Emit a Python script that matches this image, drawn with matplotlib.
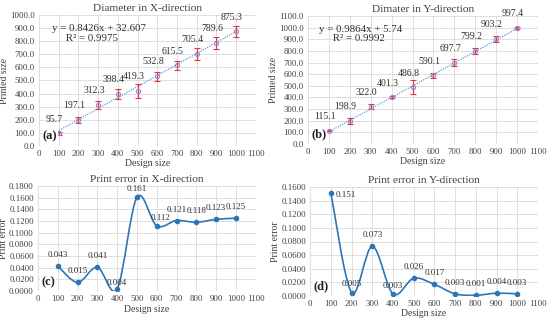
import matplotlib

matplotlib.use("Agg")

import matplotlib.pyplot as plt
import numpy as np
from matplotlib.path import Path
from matplotlib.patches import PathPatch

plt.rcParams["font.family"] = ["Liberation Serif", "DejaVu Serif"]

# data
design = [100, 200, 300, 400, 500, 600, 700, 800, 900, 1000]

x_printed = [95.7, 197.1, 312.3, 398.4, 419.3, 532.8, 615.5, 705.4, 789.6, 875.3]
x_spread = [10, 25, 30, 40, 55, 35, 35, 45, 45, 45]
x_slope, x_intercept, x_r2 = 0.8426, 32.607, 0.9975

y_printed = [115.1, 198.9, 322.0, 401.3, 486.8, 590.1, 697.7, 799.2, 903.2, 997.4]
y_spread = [6, 25, 25, 8, 60, 20, 30, 25, 25, 6]
y_slope, y_intercept, y_r2 = 0.9864, 5.74, 0.9992

x_error = [0.043, 0.015, 0.041, 0.004, 0.161, 0.112, 0.121, 0.118, 0.123, 0.125]
y_error = [0.151, 0.005, 0.073, 0.003, 0.026, 0.017, 0.003, 0.001, 0.004, 0.003]

GRID = "#d9d9d9"
LINE = "#2e75b6"
TREND = "#5b9bd5"
MARK = "#8e8ecf"
ERR = "#e8313c"


def _style(ax, ymax, ystep, fmt, title):
    ax.set_xlim(0, 1100)
    ax.set_ylim(0, ymax)
    ax.set_xticks(np.arange(0, 1101, 100))
    ax.set_yticks(np.arange(0, ymax + ystep / 2, ystep))
    ax.yaxis.set_major_formatter(matplotlib.ticker.FormatStrFormatter(fmt))
    ax.grid(True, color=GRID, linewidth=0.6)
    ax.set_axisbelow(True)
    for s in ax.spines.values():
        s.set_visible(False)
    ax.tick_params(length=0, labelsize=6.3, colors="#404040", pad=3)
    ax.set_title(title, fontsize=8.2, color="#404040", pad=3)
    ax.set_xlabel("Design size", fontsize=7, color="#404040", labelpad=1)


def _panel_tag(ax, tag):
    ax.text(0.015, 0.03, tag, transform=ax.transAxes, fontsize=9, fontweight="bold",
            ha="left", va="bottom", color="#202020",
            bbox=dict(facecolor="white", edgecolor="none", pad=0.5))


def plot_size(ax, printed, spread, slope, intercept, r2, ymax, title, tag, eq_pos):
    _style(ax, ymax, 100, "%.1f", title)
    xs = np.array([design[0], design[-1]], dtype=float)
    ax.plot(xs, slope * xs + intercept, color=TREND, linestyle=(0, (1, 1)), linewidth=0.9)
    ax.errorbar(design, printed, yerr=spread, fmt="o", color=MARK, markersize=3,
                markerfacecolor="none", markeredgewidth=0.8,
                ecolor=ERR, elinewidth=0.9, capsize=2.5, capthick=0.9)
    for x, y in zip(design, printed):
        ax.annotate(f"{y:.1f}", xy=(x, y), xytext=(-3, 7), textcoords="offset points",
                    ha="center", va="bottom", fontsize=7, color="#303030")
    sign = "+" if intercept >= 0 else "-"
    ax.text(eq_pos[0], eq_pos[1], f"y = {slope:.4f}x {sign} {abs(intercept):g}\n     R² = {r2:.4f}",
            transform=ax.transAxes, fontsize=7.8, color="#303030", va="top", ha="left",
            linespacing=1.05)
    ax.set_ylabel("Printed size", fontsize=7, color="#404040", labelpad=1)
    _panel_tag(ax, tag)


def _smooth_path(xs, ys):
    # Excel-style smoothed line: cubic Bezier through each point
    p = np.column_stack([xs, ys]).astype(float)
    n = len(p)
    verts = [p[0]]
    codes = [Path.MOVETO]
    for i in range(n - 1):
        p0 = p[i - 1] if i > 0 else p[i]
        p3 = p[i + 2] if i + 2 < n else p[i + 1]
        c1 = p[i] + (p[i + 1] - p0) / 6
        c2 = p[i + 1] - (p3 - p[i]) / 6
        verts += [c1, c2, p[i + 1]]
        codes += [Path.CURVE4] * 3
    return Path(verts, codes)


def plot_error(ax, err, ymax, title, tag, offsets):
    _style(ax, ymax, 0.02, "%.4f", title)
    ax.add_patch(PathPatch(_smooth_path(design, err), facecolor="none",
                           edgecolor=LINE, linewidth=1.2))
    ax.plot(design, err, "o", color=LINE, markersize=3)
    for (x, y), off in zip(zip(design, err), offsets):
        ax.annotate(f"{y:.3f}", xy=(x, y), xytext=off, textcoords="offset points",
                    ha="center", va="bottom", fontsize=6.5, color="#303030")
    ax.set_ylabel("Print error", fontsize=7, color="#404040", labelpad=1)
    _panel_tag(ax, tag)


fig = plt.figure(figsize=(5.5, 3.22), dpi=100)

ax_a = fig.add_axes([0.071, 0.547, 0.394, 0.406])
ax_b = fig.add_axes([0.560, 0.553, 0.418, 0.397])
ax_c = fig.add_axes([0.069, 0.096, 0.396, 0.326])
ax_d = fig.add_axes([0.564, 0.081, 0.414, 0.338])

plot_size(ax_a, x_printed, x_spread, x_slope, x_intercept, x_r2, 1000,
          "Diameter in X-direction", "(a)", (0.06, 0.93))
plot_size(ax_b, y_printed, y_spread, y_slope, y_intercept, y_r2, 1100,
          "Dimater in Y-direction", "(b)", (0.05, 0.93))

off_c = [(0, 5), (0, 5), (0, 5), (0, 1), (0, 3), (3, 3), (0, 5), (0, 5), (0, 5), (0, 5)]
off_d = [(11, -4), (0, 3), (0, 5), (0, 3), (0, 5), (0, 5), (0, 5), (0, 5), (0, 5), (0, 5)]
plot_error(ax_c, x_error, 0.18, "Print error in X-direction", "(c)", off_c)
plot_error(ax_d, y_error, 0.16, "Print error in Y-direction", "(d)", off_d)

fig.savefig("out.png", dpi=100)
